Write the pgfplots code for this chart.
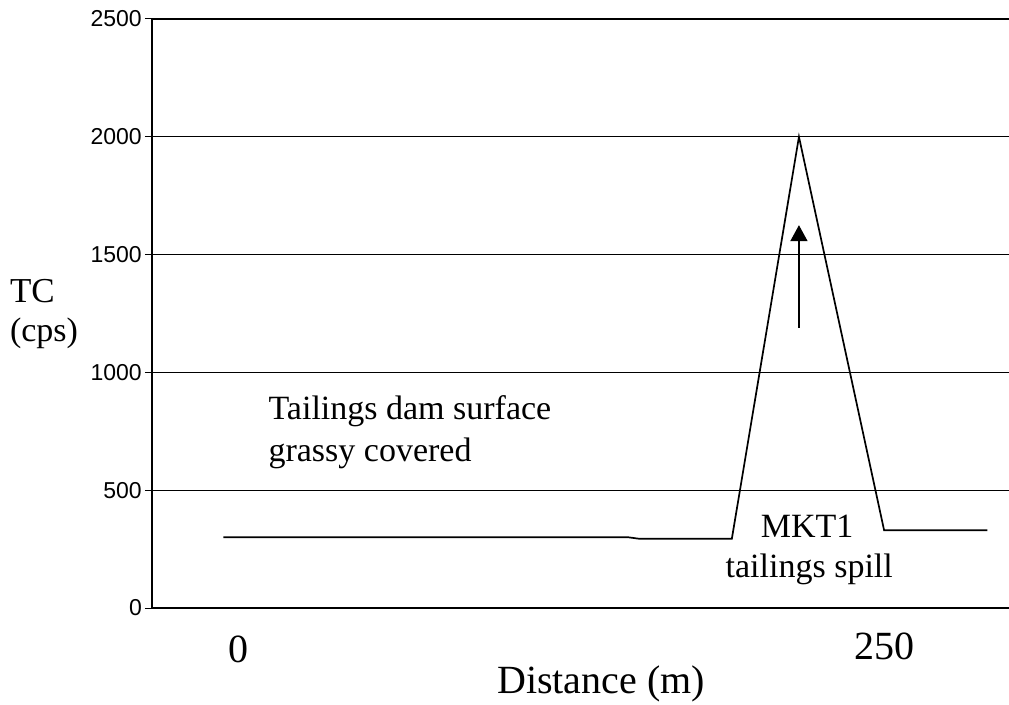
\documentclass[border=0pt]{standalone}
\usepackage{fontspec}
\setmainfont{Liberation Serif}
\newfontfamily\arial{Liberation Sans}
\usepackage{pgfplots}
\pgfplotsset{compat=1.18}
\usetikzlibrary{arrows.meta}

\begin{document}
\begin{tikzpicture}
\begin{axis}[
  scale only axis, width=857pt, height=589pt,
  at={(0,0)}, anchor=south west,
  xmin=-33.7, xmax=298.4, ymin=0, ymax=2500,
  axis lines=left, axis line style={-, line width=1.5pt, black},
  xtick=\empty,
  ytick={0,500,...,2500},
  ymajorgrids, grid style={black, line width=1.4pt},
  tick align=outside, major tick length=7pt,
  ytick style={black, line width=1pt},
  yticklabel style={font=\arial\fontsize{23}{25}\selectfont, inner sep=3pt},
  /pgf/number format/assume math mode=true,
  /pgf/number format/1000 sep={},
  clip=false,
]
\addplot[black, line width=1.7pt, mark=none] coordinates {
  (-6,300) (151,300) (155,294) (191,294) (217,2000) (250,330) (290,330)
};
\addplot[black, line width=1.6pt, mark=none, -{Triangle[width=17pt,length=16pt]}] coordinates {
  (217,1190) (217,1625)
};
\node[anchor=base west, font=\fontsize{34}{40}\selectfont] at (axis cs:10.1,799) {Tailings dam surface};
\node[anchor=base west, font=\fontsize{34}{40}\selectfont] at (axis cs:10.1,621) {grassy covered};
\node[anchor=base, font=\fontsize{34}{40}\selectfont] at (axis cs:220.2,298) {MKT1};
\node[anchor=base, font=\fontsize{34}{40}\selectfont] at (axis cs:221,129) {tailings spill};
\node[anchor=base west, inner sep=0pt, font=\fontsize{35}{38}\selectfont] at (axis cs:-88.8,1296) {TC};
\node[anchor=base west, inner sep=0pt, font=\fontsize{34}{38}\selectfont] at (axis cs:-88.8,1131) {(cps)};
\node[anchor=base, font=\fontsize{40}{44}\selectfont] at (axis cs:0,-232) {0};
\node[anchor=base, font=\fontsize{40}{44}\selectfont] at (axis cs:250,-218) {250};
\node[anchor=base, font=\fontsize{40}{44}\selectfont] at (axis cs:140.3,-365) {Distance (m)};
\end{axis}
\pgfresetboundingbox
\path[use as bounding box] (-152pt,-96pt) rectangle (857pt,608pt);
\end{tikzpicture}
\end{document}
